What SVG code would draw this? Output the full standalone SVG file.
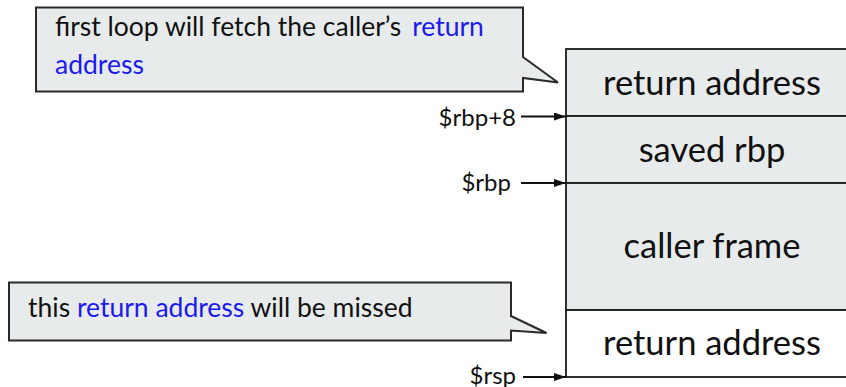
<svg xmlns="http://www.w3.org/2000/svg" width="846" height="387" viewBox="0 0 846 387">
  <style>
    .cell { fill: #e8ebec; stroke: #1a1a1a; stroke-width: 1.8; }
    .cell.plain { fill: #ffffff; }
    .callout { fill: #e8ebec; stroke: #2a2a2a; stroke-width: 2; stroke-linejoin: miter; }
    .big { font-family: Lato, "Liberation Sans", sans-serif; font-size: 34.5px; fill: #111; text-anchor: middle; }
    .note { font-family: Lato, "Liberation Sans", sans-serif; font-size: 26.5px; fill: #111; }
    .hl { fill: #1a1aee; }
    .reg { font-family: Lato, "Liberation Sans", sans-serif; font-size: 24px; fill: #111; text-anchor: end; }
    .ptr { stroke: #111; stroke-width: 1.8; fill: none; marker-end: url(#head); }
  </style>
  <defs>
    <marker id="head" viewBox="0 0 12 8" refX="12" refY="4" markerWidth="12" markerHeight="8" markerUnits="userSpaceOnUse" orient="auto">
      <path d="M0,0 L12,4 L0,8 Z" fill="#111"/>
    </marker>
  </defs>

  <rect width="846" height="387" fill="#ffffff"/>

  <!-- stack frame cells -->
  <g id="cell-return-address-top">
    <rect class="cell" x="566" y="49" width="292" height="67"/>
    <text class="big" x="712" y="95">return address</text>
  </g>
  <g id="cell-saved-rbp">
    <rect class="cell" x="566" y="116" width="292" height="67"/>
    <text class="big" x="712" y="162">saved rbp</text>
  </g>
  <g id="cell-caller-frame">
    <rect class="cell" x="566" y="183" width="292" height="127"/>
    <text class="big" x="712" y="258">caller frame</text>
  </g>
  <g id="cell-return-address-bottom">
    <rect class="cell plain" x="566" y="310" width="292" height="67"/>
    <text class="big" x="712" y="355">return address</text>
  </g>

  <!-- register labels -->
  <g id="label-rbp8"><text class="reg" x="516" y="126">$rbp+8</text></g>
  <g id="label-rbp"><text class="reg" x="511" y="191">$rbp</text></g>
  <g id="label-rsp"><text class="reg" x="516" y="384">$rsp</text></g>

  <!-- pointer arrows -->
  <g id="connectors">
    <line class="ptr" x1="521" y1="116.5" x2="566" y2="116.5"/>
    <line class="ptr" x1="521" y1="183" x2="566" y2="183"/>
    <line class="ptr" x1="523" y1="377" x2="566" y2="377"/>
  </g>

  <!-- callouts -->
  <g id="callout-first-loop">
    <path class="callout" d="M36,7.5 H523 V57 L558,82.5 L523,78 V91.5 H36 Z"/>
    <text class="note" x="55" y="36">first loop will fetch the caller’s <tspan class="hl" dx="4">return</tspan></text>
    <text class="note hl" x="55" y="74">address</text>
  </g>
  <g id="callout-missed">
    <path class="callout" d="M9,282.5 H511 V316 L546.5,333 L511,330.5 V340.5 H9 Z"/>
    <text class="note" x="28" y="316.5">this <tspan class="hl">return address</tspan> will be missed</text>
  </g>
</svg>
